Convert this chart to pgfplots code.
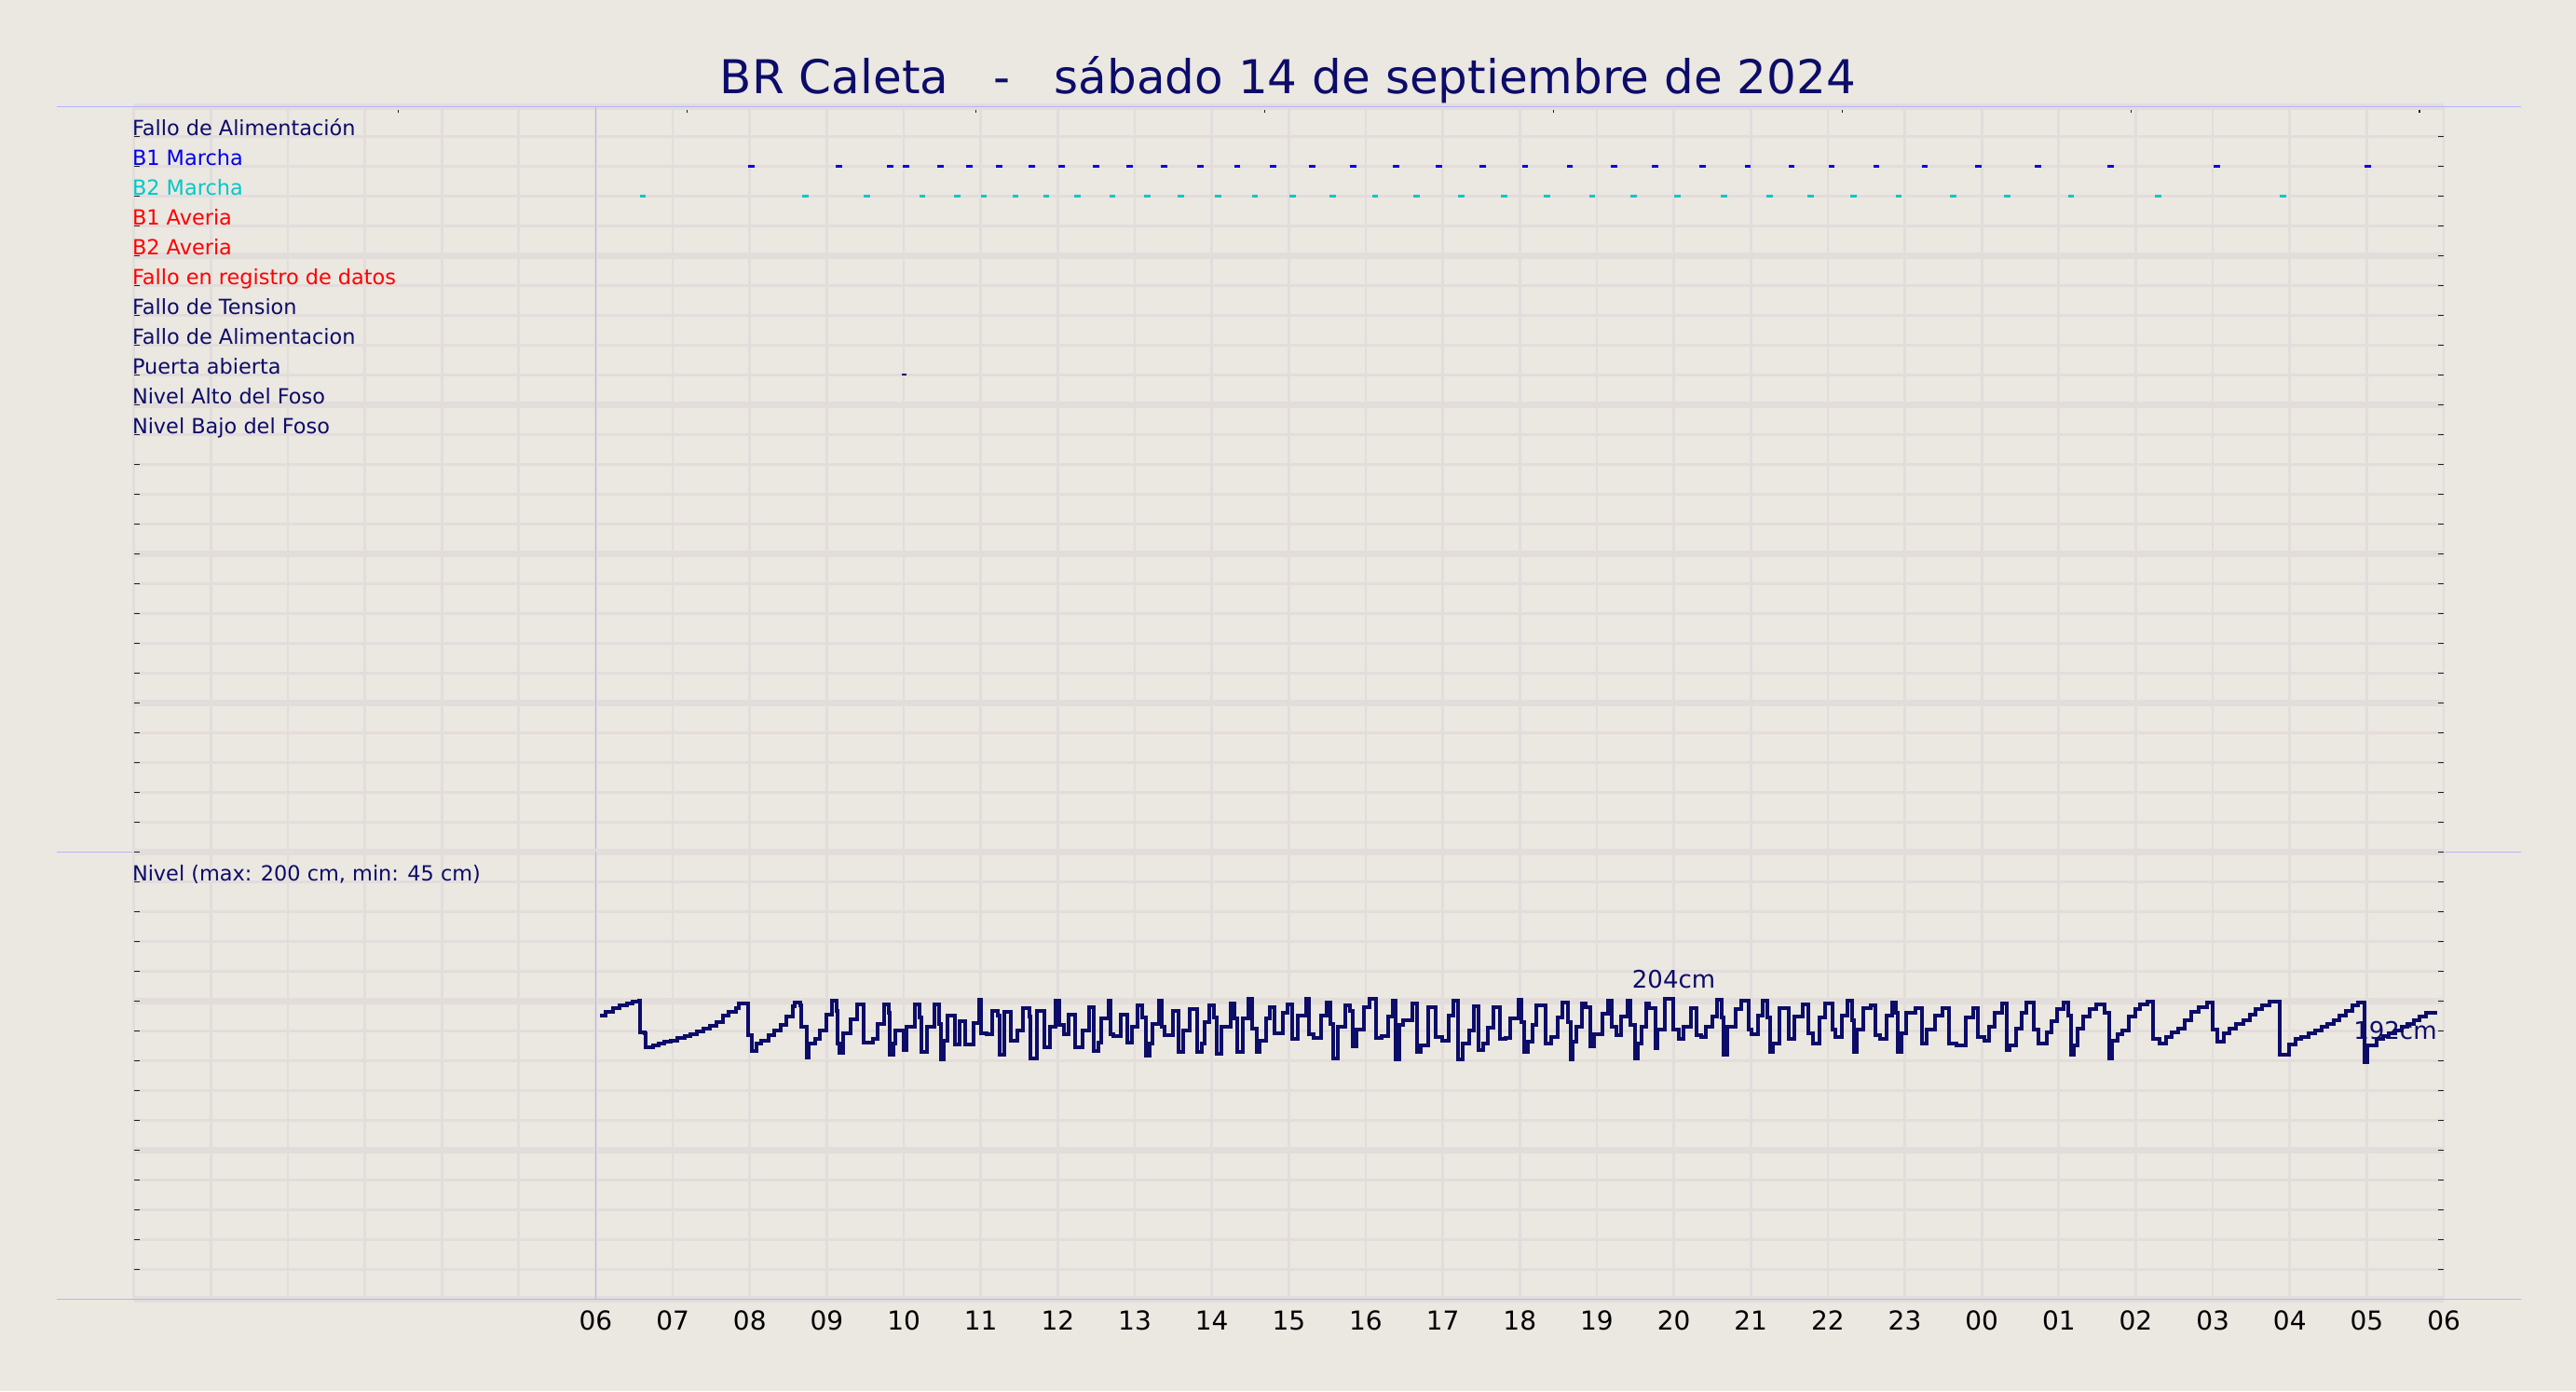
\documentclass[border=0pt]{standalone}
\usepackage{fontspec}
\setmainfont{DejaVu Sans}
\usepackage{pgfplots}
\pgfplotsset{compat=1.18}

\definecolor{bgc}{RGB}{235,231,225}
\definecolor{gridc}{RGB}{226,221,219}
\definecolor{sepblue}{RGB}{180,180,255}
\definecolor{navy}{RGB}{12,12,105}
\definecolor{b1c}{RGB}{0,0,235}
\definecolor{b2c}{RGB}{0,200,200}
\definecolor{redc}{RGB}{255,0,0}
\definecolor{tickc}{RGB}{30,30,30}

\pgfplotsset{
  panel/.style={
    anchor=south west, scale only axis, width=1239.75pt,
    xmin=0, xmax=30, clip=false,
    axis line style={draw=none},
    minor xtick={0,...,30}, xminorgrids, minor tick length=0pt,
    minor grid style={line width=1.35pt, color=gridc},
    ymajorgrids, ytick pos=both, yticklabels={},
    major grid style={line width=1.35pt, color=gridc},
    extra y tick labels={},
    extra y tick style={major grid style={line width=3.5pt, color=gridc}},
    tick align=inside, major tick length=3.2pt,
    tick style={line width=0.75pt, color=tickc},
  },
}
\tikzset{
  rowlabel/.style={anchor=base west, inner sep=0pt, xshift=-1pt, yshift=0.5pt,
    font=\fontsize{11.2}{13}\selectfont},
}

\begin{document}
\begin{tikzpicture}
\fill[bgc] (0,0) rectangle (1382.5pt,746.5pt);

\node[anchor=base, inner sep=0pt, text=navy, font=\fontsize{25}{30}\selectfont]
  at (691.25pt,696.15pt) {BR Caleta\hspace*{0.954em}-\hspace*{0.954em}sábado 14 de septiembre de 2024};

% signals panel
\begin{axis}[panel,
  at={(71.8pt,289.35pt)}, height=400pt,
  ymin=0, ymax=25,
  xtick={3.4375,7.1875,10.9375,14.6875,18.4375,22.1875,25.9375,29.6875},
  xticklabels={}, xtick pos=right,
  ytick={0,...,25},
  extra y ticks={0,5,...,25},
]
\draw[sepblue, line width=0.75pt] (axis cs:-1,25) -- (axis cs:31,25);
\draw[sepblue, line width=0.75pt] (axis cs:-1,0) -- (axis cs:31,0);
\draw[sepblue, line width=0.75pt] (axis cs:6,0) -- (axis cs:6,25);

\node[rowlabel, text=navy] at (axis cs:0,24) {Fallo de Alimentación};
\node[rowlabel, text=b1c]  at (axis cs:0,23) {B1 Marcha};
\node[rowlabel, text=b2c]  at (axis cs:0,22) {B2 Marcha};
\node[rowlabel, text=redc] at (axis cs:0,21) {B1 Averia};
\node[rowlabel, text=redc] at (axis cs:0,20) {B2 Averia};
\node[rowlabel, text=redc] at (axis cs:0,19) {Fallo en registro de datos};
\node[rowlabel, text=navy] at (axis cs:0,18) {Fallo de Tension};
\node[rowlabel, text=navy] at (axis cs:0,17) {Fallo de Alimentacion};
\node[rowlabel, text=navy] at (axis cs:0,16) {Puerta abierta};
\node[rowlabel, text=navy] at (axis cs:0,15) {Nivel Alto del Foso};
\node[rowlabel, text=navy] at (axis cs:0,14) {Nivel Bajo del Foso};

% B1 Marcha
\addplot[only marks, mark=-, mark size=1.7pt, mark options={line width=1.65pt, color=b1c}]
coordinates {
(8.02,23) (9.16,23) (9.82,23) (10.03,23) (10.48,23) (10.85,23) (11.24,23) (11.66,23)
(12.05,23) (12.50,23) (12.93,23) (13.38,23) (13.85,23) (14.33,23) (14.80,23) (15.30,23)
(15.84,23) (16.39,23) (16.95,23) (17.52,23) (18.07,23) (18.65,23) (19.22,23) (19.76,23)
(20.37,23) (20.96,23) (21.53,23) (22.05,23) (22.63,23) (23.26,23) (23.96,23) (24.73,23)
(25.67,23) (27.05,23) (29.01,23)
};
% B2 Marcha
\addplot[only marks, mark=-, mark size=1.7pt, mark options={line width=1.65pt, color=b2c}]
coordinates {
(6.61,22) (8.72,22) (9.52,22) (10.24,22) (10.69,22) (11.04,22) (11.45,22) (11.85,22)
(12.26,22) (12.71,22) (13.16,22) (13.60,22) (14.08,22) (14.56,22) (15.05,22) (15.57,22)
(16.12,22) (16.66,22) (17.24,22) (17.80,22) (18.35,22) (18.94,22) (19.48,22) (20.05,22)
(20.65,22) (21.25,22) (21.78,22) (22.33,22) (22.92,22) (23.63,22) (24.33,22) (25.16,22)
(26.29,22) (27.91,22)
};
% Puerta abierta
\addplot[only marks, mark=-, mark size=1.25pt, mark options={line width=1.2pt, color=navy}]
coordinates {(10.0,16)};
\end{axis}

% level panel
\begin{axis}[panel,
  at={(71.8pt,49.35pt)}, height=240pt,
  ymin=-48, ymax=327,
  xtick={6,...,30},
  xticklabels={06,07,08,09,10,11,12,13,14,15,16,17,18,19,20,21,22,23,00,01,02,03,04,05,06},
  xtick style={draw=none},
  xticklabel style={anchor=base, inner sep=0pt, yshift=-16.5pt, text=black,
    font=\fontsize{14}{16}\selectfont},
  ytick={-48,-23,...,327},
  extra y ticks={-48,77,202,327},
]
\draw[sepblue, line width=0.75pt] (axis cs:-1,-48) -- (axis cs:31,-48);
\draw[sepblue, line width=0.75pt] (axis cs:6,-48) -- (axis cs:6,327);

\node[rowlabel, text=navy] at (axis cs:0,302) {Nivel (max: 200 cm, min: 45 cm)};

\addplot[const plot, navy, line width=2pt] coordinates {
(6.06,190) (6.13,193) (6.22,196) (6.31,198) (6.40,200) (6.48,201.5) (6.565,202.5)
(6.58,176) (6.63,175) (6.65,163.5) (6.75,165) (6.82,166.6) (6.89,168) (6.97,168.7)
(7.06,170.7) (7.15,172.5) (7.23,174.3) (7.31,176.4) (7.40,178.9) (7.48,181.5)
(7.57,184.6) (7.65,189.7) (7.73,193) (7.82,195.6) (7.86,200) (7.98,173) (8.03,160)
(8.085,166) (8.15,168.7) (8.24,173.3) (8.32,177) (8.40,182) (8.48,189) (8.56,197.4)
(8.58,201) (8.66,198) (8.67,180) (8.74,154.6) (8.77,166) (8.85,170) (8.91,177)
(8.99,190.5) (9.07,202) (9.13,194) (9.145,166) (9.16,158.4) (9.21,175) (9.31,186.6)
(9.39,199) (9.48,167) (9.54,167) (9.60,170) (9.66,183) (9.74,199) (9.80,192)
(9.82,157) (9.86,166) (9.89,177) (10.0,161) (10.04,180) (10.14,199) (10.21,188)
(10.23,159) (10.30,180) (10.40,199) (10.46,183) (10.48,153) (10.52,169) (10.57,190)
(10.67,165.6) (10.73,185) (10.80,165.6) (10.91,183.5) (10.98,203) (11.0,175)
(11.08,174) (11.15,194) (11.22,190) (11.25,157) (11.31,193) (11.39,169) (11.47,177)
(11.55,195.6) (11.63,189) (11.65,153.8) (11.73,193.8) (11.82,163) (11.90,180)
(11.97,202) (12.02,182) (12.08,174) (12.14,190.5) (12.23,163) (12.32,177) (12.41,197)
(12.47,160) (12.53,167) (12.57,187) (12.66,202) (12.68,174) (12.72,172.5) (12.82,190.5)
(12.90,167) (12.96,180) (13.04,198) (13.10,188) (13.14,156) (13.19,166) (13.23,183)
(13.31,202) (13.35,180) (13.39,173) (13.49,194) (13.57,159) (13.63,177) (13.71,195)
(13.81,159) (13.87,166) (13.91,184) (13.97,198) (14.03,188) (14.07,158) (14.13,180)
(14.25,200) (14.29,187) (14.33,159) (14.40,187) (14.48,203.5) (14.52,179) (14.58,159)
(14.62,169) (14.70,187) (14.75,197) (14.81,175) (14.92,192) (14.98,199) (15.04,170)
(15.12,190) (15.22,204) (15.26,174) (15.32,171) (15.42,190) (15.49,201) (15.54,183)
(15.58,154) (15.64,180) (15.73,198) (15.79,194) (15.83,164) (15.88,178) (15.97,197)
(16.05,204) (16.13,171) (16.21,172.5) (16.29,189) (16.35,202.5) (16.39,153) (16.43,182)
(16.49,186) (16.61,200) (16.66,159) (16.71,165) (16.81,196.5) (16.91,172) (16.99,169)
(17.08,190) (17.14,202) (17.20,153) (17.26,166) (17.34,177.6) (17.40,197.4)
(17.46,160.5) (17.52,166) (17.58,179.4) (17.66,196.4) (17.74,170) (17.82,170.7)
(17.88,187.1) (17.98,203) (18.02,184) (18.06,159) (18.10,168) (18.17,182) (18.22,198)
(18.34,166) (18.41,172) (18.49,188) (18.55,201) (18.63,184) (18.66,153) (18.69,168)
(18.73,180) (18.81,200) (18.85,197) (18.92,164) (18.97,174) (19.07,191) (19.15,202)
(19.19,180) (19.25,173) (19.31,189) (19.40,202) (19.44,182) (19.50,154) (19.53,166)
(19.58,180) (19.64,200) (19.68,196) (19.76,162) (19.79,178) (19.88,204) (19.99,178)
(20.06,170) (20.12,180) (20.22,196) (20.30,173) (20.36,172) (20.42,180) (20.50,189)
(20.56,203) (20.62,188) (20.65,157) (20.69,180) (20.80,195) (20.88,202) (20.97,178)
(21.01,174) (21.09,190) (21.15,202) (21.21,188) (21.25,159) (21.29,166) (21.37,196)
(21.49,170) (21.57,189) (21.67,199) (21.75,175) (21.81,166) (21.89,188) (21.97,200)
(22.06,178) (22.10,172) (22.18,190) (22.26,202) (22.32,186) (22.34,159) (22.38,178)
(22.46,196) (22.56,198) (22.62,173) (22.68,170) (22.76,190) (22.84,201) (22.88,192)
(22.91,159) (22.96,175) (23.02,192) (23.14,196) (23.22,166) (23.29,178) (23.39,190)
(23.49,196) (23.57,166) (23.67,165) (23.79,188) (23.89,196) (23.95,172) (24.03,169)
(24.09,180) (24.17,192) (24.26,200) (24.32,161) (24.36,165) (24.44,179) (24.52,192)
(24.58,201) (24.68,178) (24.74,166) (24.84,176) (24.90,185) (24.98,195) (25.06,201)
(25.12,190) (25.16,157) (25.20,165) (25.24,179) (25.32,189) (25.40,195) (25.49,199)
(25.59,192) (25.65,154) (25.69,169) (25.77,174) (25.83,177) (25.91,189) (25.99,195)
(26.05,199) (26.15,201.5) (26.23,170) (26.31,166) (26.39,172) (26.47,176) (26.55,179)
(26.63,186) (26.72,193) (26.82,197) (26.92,201) (27.00,178) (27.06,168) (27.14,175)
(27.22,179) (27.30,183) (27.40,186) (27.48,190.5) (27.56,195) (27.64,198) (27.74,201.5)
(27.87,157) (27.99,165.6) (28.07,170) (28.15,172) (28.25,175) (28.33,177) (28.41,180)
(28.49,183) (28.57,186) (28.65,190) (28.73,194) (28.81,198) (28.89,201) (28.97,151)
(29.01,165) (29.13,170) (29.21,172.5) (29.29,175) (29.37,177) (29.45,180) (29.53,183)
(29.61,186) (29.69,189) (29.77,192) (29.92,192)
};

\node[anchor=base, inner sep=0pt, text=navy, font=\fontsize{13}{15}\selectfont]
  at (axis cs:20.0,213) {204cm};
\node[anchor=base, inner sep=0pt, text=navy, font=\fontsize{13}{15}\selectfont]
  at (axis cs:29.37,169.5) {192cm};
\end{axis}

\pgfresetboundingbox
\path[use as bounding box] (0,0) rectangle (1382.5pt,746.5pt);
\end{tikzpicture}
\end{document}
